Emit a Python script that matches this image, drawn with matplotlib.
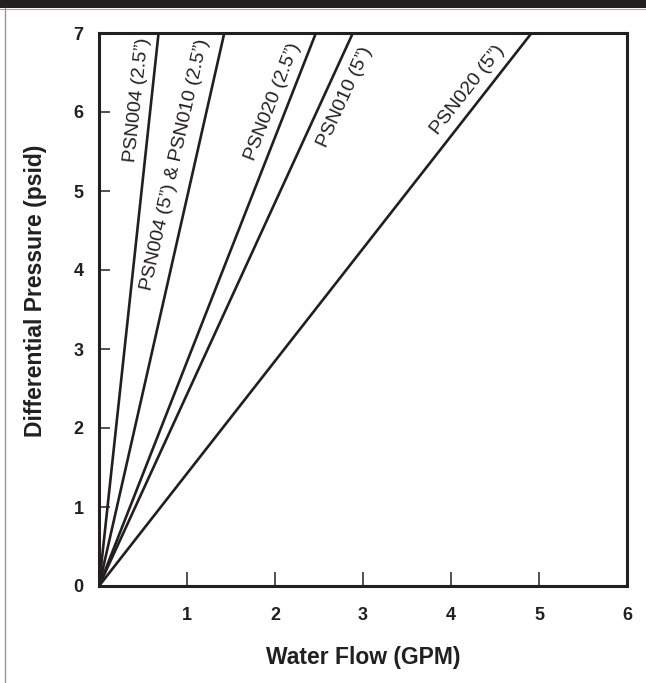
import numpy as np
import matplotlib
matplotlib.use("Agg")
import matplotlib.pyplot as plt
from matplotlib.patches import Rectangle
from matplotlib.lines import Line2D

plt.rcParams["font.family"] = ["Liberation Sans", "DejaVu Sans"]

INK = "#231f20"

# flow (GPM) at which each curve reaches 7 psid; curves are straight from the origin
models = ["PSN004 (2.5”)", "PSN004 (5”) & PSN010 (2.5”)", "PSN020 (2.5”)",
          "PSN010 (5”)", "PSN020 (5”)"]
flow_at_top = [0.677, 1.424, 2.465, 2.885, 4.916]
pressure_span = [0, 7]

# where along each line the label sits (psid) and which side (px, + = above/left)
label_at = [6.13, 5.28, 6.06, 6.29, 6.16]
label_side = [14, 18.5, 15, -19.5, 15]

x_ticks = [1, 2, 3, 4, 5, 6]
y_ticks = [0, 1, 2, 3, 4, 5, 6, 7]

fig = plt.figure(figsize=(6.46, 6.83), dpi=100)
ax = fig.add_axes([99 / 646, 97 / 683, 528 / 646, 553 / 683])

# page decorations: dark band on top, thin grey frame
fig.patches.append(Rectangle((0, 1 - 8 / 683), 1, 8 / 683, transform=fig.transFigure,
                             facecolor=INK, edgecolor="none"))
fig.lines.append(Line2D([0, 1], [1 - 8.5 / 683] * 2, transform=fig.transFigure,
                        color="#aaaaaa", lw=0.8))
fig.lines.append(Line2D([5 / 646] * 2, [0, 1 - 8 / 683], transform=fig.transFigure,
                        color="#999999", lw=1.0))

for name, xt in zip(models, flow_at_top):
    ax.plot([0, xt], pressure_span, color=INK, lw=1.9, solid_capstyle="butt")

ax.set_xlim(0, 6)
ax.set_ylim(0, 7)
fig.canvas.draw()

for name, xt, ya, side in zip(models, flow_at_top, label_at, label_side):
    p0 = ax.transData.transform((0, 0))
    p1 = ax.transData.transform((xt, 7))
    ang = np.degrees(np.arctan2(p1[1] - p0[1], p1[0] - p0[0]))
    th = np.radians(ang)
    dx = -np.sin(th) * side * 0.72
    dy = np.cos(th) * side * 0.72
    ax.annotate(name, xy=(xt * ya / 7, ya), xytext=(dx, dy), textcoords="offset points",
                rotation=ang, rotation_mode="anchor", ha="center", va="center",
                fontsize=14, color=INK)

for s in ax.spines.values():
    s.set_linewidth(2.2)
    s.set_color(INK)

ax.set_xticks(x_ticks)
ax.set_yticks(y_ticks)
ax.tick_params(axis="x", direction="in", length=10, width=1.1, color=INK, pad=15,
               labelsize=13, labelcolor=INK)
ax.tick_params(axis="y", direction="in", length=8, width=1.1, color=INK, pad=11,
               labelsize=13, labelcolor=INK)
for lab in ax.get_xticklabels() + ax.get_yticklabels():
    lab.set_fontweight("bold")

ax.set_xlabel("Water Flow (GPM)", fontsize=16.5, fontweight="bold", color=INK)
ax.set_ylabel("Differential Pressure (psid)", fontsize=16.5, fontweight="bold", color=INK)
ax.xaxis.set_label_coords(0.5, -0.108)
ax.yaxis.set_label_coords(-0.098, 0.533)

fig.savefig("out.png", dpi=100)
